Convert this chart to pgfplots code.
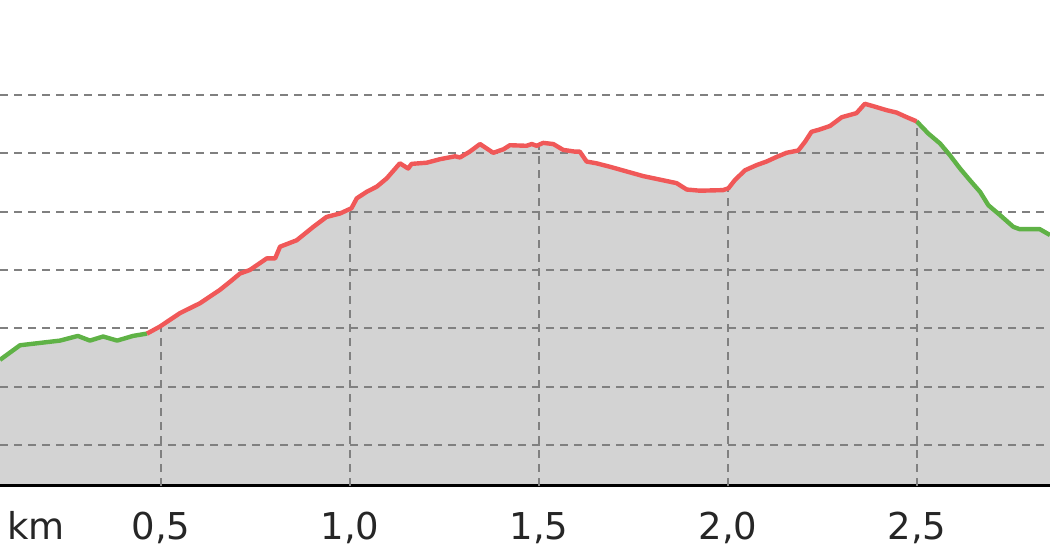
\documentclass[border=0pt]{standalone}
\usepackage{fontspec}
\setmainfont{DejaVu Sans}
\usepackage{pgfplots}
\usepackage{pgfplotstable}
\pgfplotsset{compat=1.18}
\definecolor{fillgray}{RGB}{211,211,211}
\definecolor{gridgray}{RGB}{128,128,128}
\definecolor{upred}{RGB}{240,88,88}
\definecolor{downgreen}{RGB}{95,178,70}
\pgfplotstableread{
km ele
0.0741 314.6
0.127 317.1
0.180 317.5
0.233 317.9
0.280 318.7
0.312 317.9
0.347 318.6
0.384 317.9
0.426 318.7
0.463 319.1
0.497 320.3
0.550 322.6
0.603 324.3
0.656 326.6
0.683 328.0
0.709 329.4
0.735 330.0
0.780 332.0
0.802 332.0
0.815 334.0
0.859 335.1
0.903 337.4
0.938 339.1
0.974 339.7
1.004 340.6
1.018 342.3
1.044 343.4
1.071 344.3
1.097 345.7
1.132 348.3
1.154 347.4
1.163 348.2
1.203 348.4
1.238 349.0
1.278 349.5
1.291 349.3
1.317 350.3
1.344 351.6
1.379 350.1
1.406 350.7
1.423 351.4
1.467 351.3
1.481 351.6
1.494 351.3
1.511 351.8
1.538 351.6
1.564 350.6
1.595 350.3
1.608 350.3
1.626 348.6
1.652 348.3
1.688 347.7
1.732 346.9
1.776 346.1
1.820 345.5
1.864 344.9
1.891 343.8
1.926 343.6
1.987 343.7
2.001 344.0
2.018 345.4
2.045 347.1
2.076 348.0
2.102 348.6
2.129 349.4
2.155 350.1
2.186 350.5
2.204 352.0
2.221 353.7
2.243 354.1
2.270 354.7
2.301 356.2
2.340 356.9
2.362 358.5
2.384 358.1
2.420 357.4
2.446 357.0
2.473 356.2
2.499 355.5
2.530 353.4
2.561 351.7
2.587 349.7
2.614 347.4
2.640 345.4
2.667 343.4
2.689 341.1
2.720 339.4
2.755 337.4
2.772 337.0
2.825 337.0
2.852 336.0
}\profile
\begin{document}
\begin{tikzpicture}
\begin{axis}[
  set layers,
  scale only axis, width=525pt, height=243pt,
  xmin=0.0741, xmax=2.852, ymin=292.97, ymax=376.3,
  axis x line*=bottom, axis y line*=left,
  x axis line style={line width=1.5pt, black},
  y axis line style={draw=none},
  xtick={0.5,1,1.5,2,2.5},
  extra x ticks={0.1693}, extra x tick labels={km},
  extra x tick style={grid=none},
  major tick length=0pt,
  ytick={300,310,...,360}, yticklabels={},
  ymajorgrids,
  grid style={gridgray, line width=1pt, dash pattern=on 4pt off 3pt},
  xticklabel style={anchor=base, yshift=-27pt, inner sep=0pt, text=black!85,
    font=\fontsize{18.5}{22}\selectfont},
  /pgf/number format/.cd, use comma, fixed, fixed zerofill, precision=1, assume math mode=true,
]
\addplot[fill=fillgray, draw=none, on layer=axis background] table {\profile} \closedcycle;
\addplot[ycomb, no marks, gridgray, line width=1pt, dash pattern=on 4pt off 3pt]
  coordinates {(0.5,320.4) (1.0,340.5) (1.5,351.5) (2.0,344.0) (2.5,355.5)};
\addplot[downgreen, line width=2.2pt, line join=round, no marks, restrict x to domain=0:0.4635] table {\profile};
\addplot[downgreen, line width=2.2pt, line join=round, no marks, restrict x to domain=2.4985:3] table {\profile};
\addplot[upred, line width=2.2pt, line join=round, no marks, restrict x to domain=0.4625:2.4995] table {\profile};
\end{axis}
\pgfresetboundingbox
\useasboundingbox (0,-37pt) rectangle (525pt,243pt);
\end{tikzpicture}
\end{document}
